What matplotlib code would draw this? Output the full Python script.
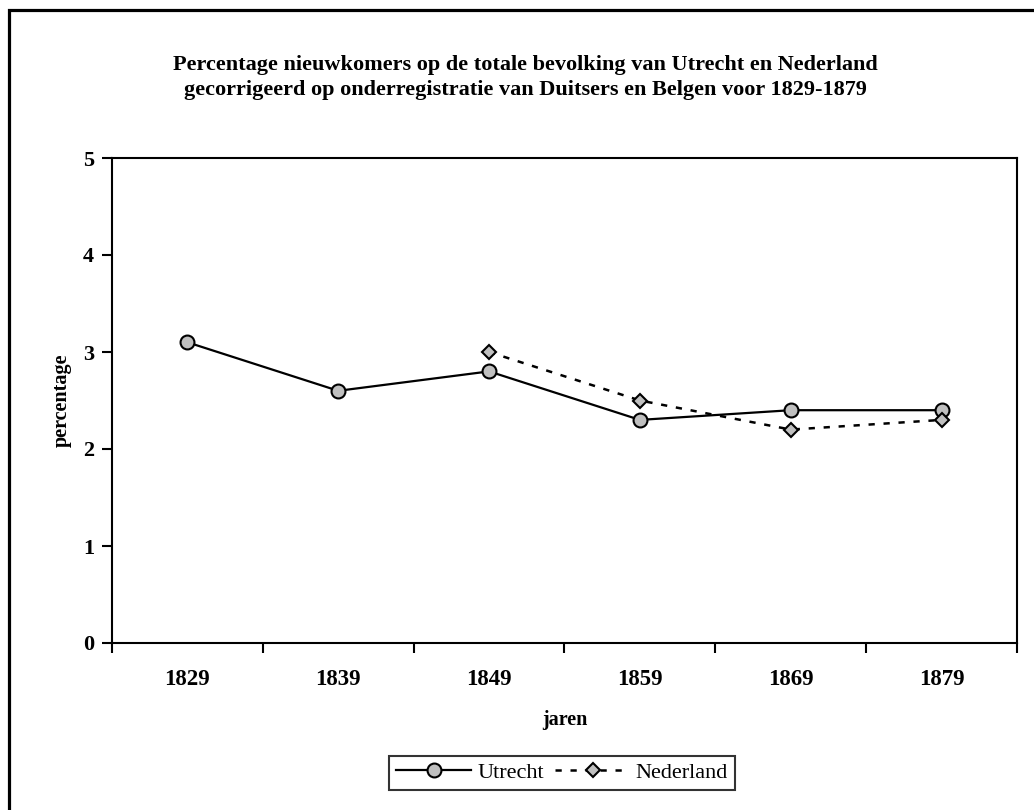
import matplotlib
matplotlib.use("Agg")
import matplotlib.pyplot as plt
import numpy as np
from matplotlib.patches import Rectangle

years = ["1829", "1839", "1849", "1859", "1869", "1879"]
utrecht = [3.1, 2.6, 2.8, 2.3, 2.4, 2.4]
nederland = [np.nan, np.nan, 3.0, 2.5, 2.2, 2.3]
yticks = [0, 1, 2, 3, 4, 5]

plt.rcParams['font.family'] = ['Liberation Serif', 'DejaVu Serif']

fig = plt.figure(figsize=(10.34, 8.10), dpi=100)
ax = fig.add_axes([112/1034, 1-643/810, (1017-112)/1034, (643-158)/810])

x = np.arange(len(years))
gray = '#C0C0C0'
ax.plot(x, utrecht, '-', color='black', lw=1.6, marker='o', ms=10,
        mfc=gray, mec='black', mew=1.5, label='Utrecht', zorder=3)
ax.plot(x, nederland, linestyle=(0, (2.5, 3.5)), color='black', lw=1.8, marker='D', ms=7.5,
        mfc=gray, mec='black', mew=1.5, label='Nederland', zorder=3)

ax.set_xlim(-0.5, len(years) - 0.5)
ax.set_ylim(0, 5)
ax.set_yticks(yticks)
ax.set_yticklabels([str(v) for v in yticks], fontsize=16, fontweight='bold')
ax.set_xticks(np.arange(-0.5, len(years)), minor=False)
ax.set_xticklabels([])
ax.set_xticks(x, minor=True)
ax.set_xticklabels(years, minor=True, fontsize=16.5, fontweight='bold')
ax.tick_params(axis='x', which='major', direction='out', length=7, width=1.5)
ax.tick_params(axis='x', which='minor', length=0, pad=19)
ax.tick_params(axis='y', direction='out', length=7, width=1.5, pad=6)
for s in ax.spines.values():
    s.set_linewidth(1.5)

ax.set_xlabel('jaren', fontsize=14.5, fontweight='bold', labelpad=14)
ax.set_ylabel('percentage', fontsize=14.5, fontweight='bold', labelpad=8)

fig.text(0.5085, 1-65/810, 'Percentage nieuwkomers op de totale bevolking van Utrecht en Nederland',
         ha='center', va='center', fontsize=16, fontweight='bold')
fig.text(0.5085, 1-90/810, 'gecorrigeerd op onderregistratie van Duitsers en Belgen voor 1829-1879',
         ha='center', va='center', fontsize=16, fontweight='bold')

leg = fig.legend(loc='center', bbox_to_anchor=(562/1034, 1-773/810), ncol=2,
                 fontsize=16, frameon=True, fancybox=False, edgecolor='black',
                 handlelength=3.4, columnspacing=0.5, handletextpad=0.25,
                 borderpad=0.3, borderaxespad=0)
leg.get_frame().set_linewidth(1.5)

fig.add_artist(Rectangle((8.5/1034, -0.02), 1.05, 1-9.5/810+0.02, transform=fig.transFigure,
                         fill=False, edgecolor='black', lw=2.3))

fig.savefig('out.png', dpi=100)
